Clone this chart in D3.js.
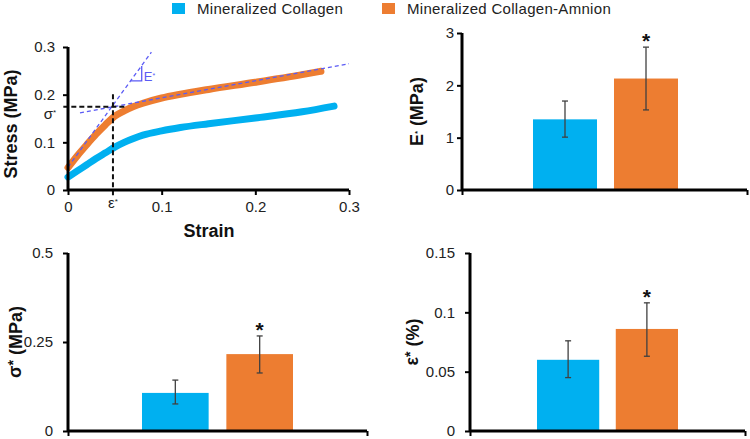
<!DOCTYPE html>
<html><head><meta charset="utf-8">
<script src="https://cdn.jsdelivr.net/npm/d3@7"></script>
<style>body{margin:0;background:#fff} svg{display:block} text{font-family:"Liberation Sans",Arial,sans-serif}</style>
</head><body><svg id="c" width="750" height="439"></svg>
<script>
// ---------- data ----------
const groups = ["Mineralized Collagen", "Mineralized Collagen-Amnion"];
const colors = ["#00b0f0", "#ed7d31"];

// stress-strain curves
const strainBlue  = [0, 0.01, 0.02, 0.03, 0.04, 0.05, 0.06, 0.07, 0.08, 0.10, 0.12, 0.15, 0.20, 0.25, 0.284];
const stressBlue  = [0.027, 0.040, 0.053, 0.066, 0.078, 0.090, 0.100, 0.108, 0.115, 0.124, 0.131, 0.139, 0.151, 0.164, 0.176];
const strainOrange = [0, 0.01, 0.02, 0.03, 0.04, 0.05, 0.06, 0.07, 0.08, 0.10, 0.12, 0.15, 0.20, 0.25, 0.27];
const stressOrange = [0.047, 0.072, 0.095, 0.117, 0.137, 0.155, 0.166, 0.175, 0.182, 0.193, 0.201, 0.211, 0.226, 0.242, 0.249];
const steepTangent   = [[0, 0.048], [0.089, 0.289]];
const shallowTangent = [[0.0128, 0.162], [0.30, 0.265]];
const slopeTriangle  = [[0.067, 0.229], [0.0787, 0.229], [0.0787, 0.26]];
const sigmaStar = 0.1745, epsStar = 0.048;
const curveTicks = [0, 0.1, 0.2, 0.3];

// bar panels
const modulus   = [1.35, 2.13], modulusLo = [1.01, 1.53], modulusHi = [1.70, 2.73];
const modTicks  = [0, 1, 2, 3];
const stress    = [0.107, 0.216], stressLo = [0.076, 0.163], stressHi = [0.143, 0.267];
const stressTicks = [0, 0.25, 0.5];
const strain    = [0.060, 0.086], strainLo = [0.045, 0.063], strainHi = [0.076, 0.108];
const strainTicks = [0, 0.05, 0.1, 0.15];

const svg = d3.select("#c");

// ---------- legend ----------
const legX = [172, 382];
groups.forEach((g, i) => {
  svg.append("rect").attr("x", legX[i]).attr("y", 3).attr("width", 13).attr("height", 11).attr("fill", colors[i]);
  svg.append("text").attr("x", legX[i] + 25).attr("y", 14).attr("font-size", 15)
    .attr("letter-spacing", 0.3).attr("fill", "#222").text(g);
});

function yTitle(cx, cy, parts) {
  const t = svg.append("text").attr("transform", `translate(${cx},${cy}) rotate(-90)`)
    .attr("text-anchor", "middle").attr("dy", "0.35em").attr("font-size", 18).attr("font-weight", "bold").attr("fill", "#111");
  parts.forEach(p => {
    const s = t.append("tspan").text(p.t);
    if (p.sup) s.attr("font-size", p.sz || 12).attr("dy", p.dy).attr("baseline-shift", p.dy ? null : "super");
    else if (p.dy) s.attr("dy", p.dy);
  });
}

function axisStyle(g) {
  g.select(".domain").attr("stroke", "#000").attr("stroke-width", 3);
  g.selectAll(".tick line").attr("stroke", "#000").attr("stroke-width", 2);
  g.selectAll(".tick text").attr("font-size", 15).attr("fill", "#222").attr("font-family", '"Liberation Sans",Arial,sans-serif');
}

// ---------- stress-strain panel ----------
{
  const x = d3.scaleLinear().domain([0, 0.3]).range([68, 349]);
  const y = d3.scaleLinear().domain([0, 0.3]).range([190, 47]);
  const line = d3.line().x(d => x(d[0])).y(d => y(d[1])).curve(d3.curveMonotoneX);
  const blue = strainBlue.map((s, i) => [s, stressBlue[i]]);
  const orange = strainOrange.map((s, i) => [s, stressOrange[i]]);
  svg.append("path").attr("d", line(blue)).attr("fill", "none").attr("stroke", colors[0]).attr("stroke-width", 7).attr("stroke-linecap", "round");
  svg.append("path").attr("d", line(orange)).attr("fill", "none").attr("stroke", colors[1]).attr("stroke-width", 7).attr("stroke-linecap", "round");

  const lin = d3.line().x(d => x(d[0])).y(d => y(d[1]));
  const dashBlue = "#5b5bf5";
  [steepTangent, shallowTangent].forEach(l =>
    svg.append("path").attr("d", lin(l)).attr("fill", "none").attr("stroke", dashBlue).attr("stroke-width", 1.3).attr("stroke-dasharray", "4,3"));
  svg.append("path").attr("d", lin(slopeTriangle)).attr("fill", "none").attr("stroke", dashBlue).attr("stroke-width", 1.3);
  const eT = svg.append("text").attr("x", x(0.081)).attr("y", y(0.229)).attr("font-size", 13).attr("fill", dashBlue).text("E");
  eT.append("tspan").attr("font-size", 7).attr("baseline-shift", "super").text("*");

  // black dashed markers
  svg.append("line").attr("x1", x(-0.005)).attr("x2", x(0.063)).attr("y1", y(sigmaStar)).attr("y2", y(sigmaStar))
    .attr("stroke", "#111").attr("stroke-width", 2).attr("stroke-dasharray", "5,3");
  svg.append("line").attr("x1", x(epsStar)).attr("x2", x(epsStar)).attr("y1", y(-0.011)).attr("y2", y(0.206))
    .attr("stroke", "#111").attr("stroke-width", 2).attr("stroke-dasharray", "5,3");

  const gx = svg.append("g").attr("transform", "translate(0,190)")
    .call(d3.axisBottom(x).tickValues(curveTicks).tickFormat(d3.format("~g")).tickSize(5).tickPadding(6));
  axisStyle(gx);
  const gy = svg.append("g").attr("transform", "translate(68,0)")
    .call(d3.axisLeft(y).tickValues(curveTicks).tickFormat(d3.format("~g")).tickSize(5).tickPadding(8));
  axisStyle(gy);
  gx.select(".domain").attr("d", `M68,0H349`);
  gy.select(".domain").attr("d", `M0,190V47`);

  const st = svg.append("text").attr("x", 50).attr("y", y(sigmaStar) + 12).attr("text-anchor", "middle").attr("font-size", 15).attr("fill", "#222").text("σ");
  st.append("tspan").attr("font-size", 8).attr("baseline-shift", "super").text("*");
  const et = svg.append("text").attr("x", x(epsStar)).attr("y", 208).attr("text-anchor", "middle").attr("font-size", 15).attr("fill", "#222").text("ε");
  et.append("tspan").attr("font-size", 8).attr("baseline-shift", "super").text("*");

  svg.append("text").attr("x", 209).attr("y", 237).attr("text-anchor", "middle").attr("font-size", 18).attr("font-weight", "bold").attr("fill", "#111").text("Strain");
  yTitle(11, 124, [{t: "Stress (MPa)"}]);
}

// ---------- bar panels ----------
function barPanel(o) {
  const y = d3.scaleLinear().domain([0, o.ticks[o.ticks.length - 1]]).range([o.yBottom, o.yTop]);
  const x = d3.scaleBand().domain(groups).range(o.band).paddingInner(0.21).paddingOuter(0);
  groups.forEach((g, i) => {
    svg.append("rect").attr("x", x(g)).attr("width", x.bandwidth()).attr("y", y(o.values[i]))
      .attr("height", o.yBottom - y(o.values[i])).attr("fill", colors[i]);
    const cx = x(g) + x.bandwidth() / 2;
    svg.append("line").attr("x1", cx).attr("x2", cx).attr("y1", y(o.lo[i])).attr("y2", y(o.hi[i])).attr("stroke", "#404040").attr("stroke-width", 1.3);
    [o.lo[i], o.hi[i]].forEach(v => svg.append("line").attr("x1", cx - 3).attr("x2", cx + 3).attr("y1", y(v)).attr("y2", y(v)).attr("stroke", "#404040").attr("stroke-width", 1.3));
    if (i === 1) svg.append("text").attr("x", cx).attr("y", y(o.hi[i]) + 1).attr("text-anchor", "middle")
      .attr("font-size", 21).attr("font-weight", "bold").attr("fill", "#111").text("*");
  });
  const gy = svg.append("g").attr("transform", `translate(${o.xAxis},0)`)
    .call(d3.axisLeft(y).tickValues(o.ticks).tickFormat(d3.format("~g")).tickSize(5).tickPadding(o.pad));
  axisStyle(gy);
  gy.select(".domain").attr("d", `M0,${o.yBottom}V${o.yTop}`);
  const xs = d3.scaleLinear().domain([0, 1]).range([o.xAxis, o.xEnd]);
  const gx = svg.append("g").attr("transform", `translate(0,${o.yBottom})`)
    .call(d3.axisBottom(xs).tickValues([0, 1]).tickFormat("").tickSize(5));
  axisStyle(gx);
  gx.select(".domain").attr("d", `M${o.xAxis},0H${o.xEnd}`);
  yTitle(o.titleX, (o.yTop + o.yBottom) / 2, o.title);
}

barPanel({values: modulus, lo: modulusLo, hi: modulusHi, ticks: modTicks, yBottom: 190, yTop: 33,
  xAxis: 462, xEnd: 747, band: [533, 678], pad: 3, titleX: 417,
  title: [{t: "E"}, {t: "*", sup: true, sz: 7}, {t: " (MPa)"}]});
barPanel({values: stress, lo: stressLo, hi: stressHi, ticks: stressTicks, yBottom: 431, yTop: 253,
  xAxis: 68, xEnd: 367, band: [142, 293], pad: 10, titleX: 15,
  title: [{t: "σ"}, {t: "*", sup: true, sz: 14, dy: "-0.25em"}, {t: " (MPa)", dy: "0.22em"}]});
barPanel({values: strain, lo: strainLo, hi: strainHi, ticks: strainTicks, yBottom: 431, yTop: 253,
  xAxis: 470, xEnd: 745, band: [537, 678], pad: 10, titleX: 412,
  title: [{t: "ε"}, {t: "*", sup: true, sz: 14, dy: "-0.25em"}, {t: " (%)", dy: "0.22em"}]});
</script></body></html>
